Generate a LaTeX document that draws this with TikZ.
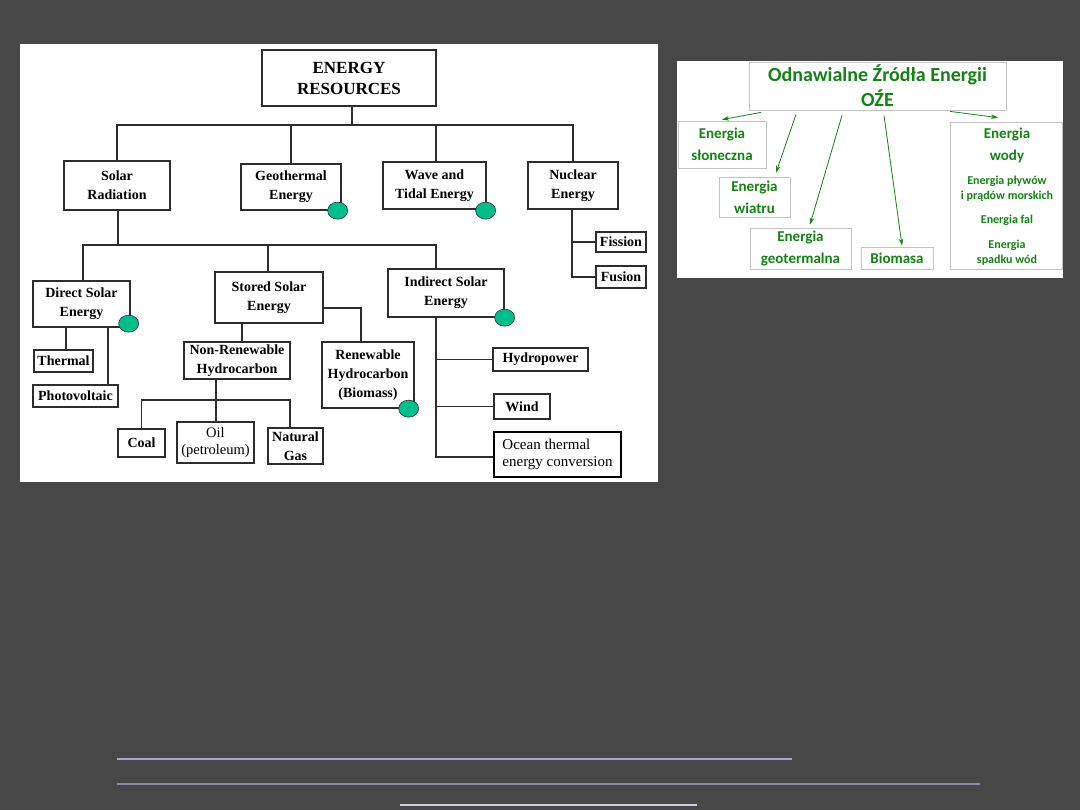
\documentclass[tikz,border=0pt]{standalone}
\usepackage{fontspec}
\setmainfont{Liberation Serif}
\newfontfamily\calib{Carlito}
\usetikzlibrary{arrows.meta,calc,shapes.geometric}
\definecolor{bgc}{RGB}{71,71,71}
\definecolor{boxc}{RGB}{45,45,45}
\definecolor{dotc}{RGB}{0,190,140}
\definecolor{grn}{RGB}{20,130,20}
\definecolor{lbord}{RGB}{195,195,195}
\definecolor{lineA}{RGB}{165,165,205}
\definecolor{lineB}{RGB}{140,140,170}
\definecolor{lineC}{RGB}{205,205,235}
\begin{document}
\begin{tikzpicture}[x=1pt,y=-1pt,
  bx/.style={draw=boxc, line width=1.3pt, fill=white, inner sep=0pt, align=center,
    font=\bfseries\fontsize{14}{19}\selectfont},
  conn/.style={draw=boxc, line width=1.3pt},
  dot/.style={ellipse, draw=boxc, line width=0.6pt, fill=dotc, minimum width=20pt, minimum height=17pt, inner sep=0pt},
  gbox/.style={draw=lbord, line width=0.8pt, inner sep=0pt, align=center, text=grn,
    font=\calib\bfseries\fontsize{15}{22}\selectfont},
  gsmall/.style={text=grn, inner sep=0pt, align=center, font=\calib\bfseries\fontsize{12}{15}\selectfont},
  garrow/.style={draw=grn, line width=0.8pt, -{Stealth[length=7pt,width=4.5pt]}}
]
\fill[bgc] (0,0) rectangle (1080,810);
\useasboundingbox (0,0) rectangle (1080,810);
% panels
\fill[white] (20,44) rectangle (658,482);
\fill[white] (677,61) rectangle (1063,278);

% ---------------- left diagram ----------------
\node[bx, minimum width=174pt, minimum height=56pt, font=\bfseries\fontsize{17}{21}\selectfont] (er) at (349,78) {ENERGY\\RESOURCES};
\node[bx, minimum width=106pt, minimum height=49pt] (sr) at (117,185.5) {Solar\\Radiation};
\node[bx, minimum width=100pt, minimum height=46pt] (geo) at (291,187) {Geothermal\\Energy};
\node[bx, minimum width=103pt, minimum height=47pt] (wave) at (434.5,185.5) {Wave and\\Tidal Energy};
\node[bx, minimum width=90pt, minimum height=47pt] (nuc) at (573,185.5) {Nuclear\\Energy};
\node[bx, minimum width=50pt, minimum height=20pt] (fis) at (621,242) {Fission};
\node[bx, minimum width=50pt, minimum height=22pt] (fus) at (621,277) {Fusion};
\node[bx, minimum width=97pt, minimum height=46pt] (dse) at (81.5,304) {Direct Solar\\Energy};
\node[bx, minimum width=59pt, minimum height=22pt] (th) at (63.5,361) {Thermal};
\node[bx, minimum width=85pt, minimum height=22pt] (pv) at (75.5,396) {Photovoltaic};
\node[bx, minimum width=108pt, minimum height=51pt] (ss) at (269,297.5) {Stored Solar\\Energy};
\node[bx, minimum width=106pt, minimum height=37pt] (nr) at (237,360.5) {Non-Renewable\\Hydrocarbon};
\node[bx, minimum width=92pt, minimum height=66pt] (ren) at (368,375) {Renewable\\Hydrocarbon\\(Biomass)};
\node[bx, minimum width=47pt, minimum height=28pt] (coal) at (141.5,443) {Coal};
\node[bx, minimum width=77pt, minimum height=41pt, font=\fontsize{14.5}{17}\selectfont] (oil) at (215.5,442.5) {Oil\\(petroleum)};
\node[bx, minimum width=55pt, minimum height=36pt] (gas) at (295.5,446) {Natural\\Gas};
\node[bx, minimum width=116pt, minimum height=48pt] (ind) at (446,293) {Indirect Solar\\Energy};
\node[bx, minimum width=95pt, minimum height=23pt] (hy) at (540.5,359.5) {Hydropower};
\node[bx, minimum width=56pt, minimum height=25pt] (wi) at (522,406.5) {Wind};
\node[bx, draw=black, line width=2pt, minimum width=127pt, minimum height=45pt, align=left,
  font=\fontsize{15}{17}\selectfont] (oc) at (557.5,454.5) {Ocean thermal\\energy conversion};

% connectors level 1
\coordinate (bus1) at (352,125);
\draw[conn] ([xshift=3pt]er.south) -- (bus1);
\draw[conn] (sr.north) |- (bus1) -| (nuc.north);
\draw[conn] (geo.north) -- (geo.north |- bus1);
\draw[conn] ([xshift=1.5pt]wave.north) -- ([xshift=1.5pt]wave.north |- bus1);
% nuclear
\draw[conn] ([xshift=-1pt]nuc.south) |- (fus.west);
\draw[conn] (fis.west) -- ([xshift=-1pt]nuc.south |- fis.west);
% level 2
\coordinate (bus2) at (118,245);
\draw[conn] ([xshift=1pt]sr.south) -- (bus2);
\draw[conn] ([xshift=1.5pt]dse.north) |- (bus2) -| ([xshift=-10pt]ind.north);
\draw[conn] ([xshift=-1pt]ss.north) -- ([xshift=-1pt]ss.north |- bus2);
% direct solar
\draw[conn] ([xshift=-15.5pt]dse.south) -- ([xshift=-15.5pt]dse.south |- th.north);
\draw[conn] ([xshift=26.5pt]dse.south) -- ([xshift=26.5pt]dse.south |- pv.north);
% stored solar
\draw[conn] ([yshift=-10.5pt]ss.east) -| ([xshift=-7pt]ren.north);
\draw[conn] ([xshift=-27pt]ss.south) -- ([xshift=-27pt]ss.south |- nr.north);
\coordinate (bus3) at (216,400);
\draw[conn] ([xshift=-21pt]nr.south) -- (bus3);
\draw[conn] (coal.north) |- (bus3) -| ([xshift=-5.5pt]gas.north);
\draw[conn] ([xshift=0.5pt]oil.north) -- ([xshift=0.5pt]oil.north |- bus3);
% indirect solar
\draw[conn] ([xshift=-10pt]ind.south) |- ([yshift=-2.5pt]oc.west);
\draw[conn] (hy.west) -- ([xshift=-10pt]ind.south |- hy.west);
\draw[conn] (wi.west) -- ([xshift=-10pt]ind.south |- wi.west);

% green dots
\node[dot] (d1) at ([xshift=-4pt]geo.south east) {};
\node[dot] (d2) at ([xshift=-1pt,yshift=-1pt]wave.south east) {};
\node[dot] (d3) at ([xshift=-2pt,yshift=4pt]dse.south east) {};
\node[dot] (d4) at ([xshift=-6pt]ren.south east) {};
\node[dot] (d5) at (ind.south east) {};

% ---------------- right diagram ----------------
\node[gbox, minimum width=257pt, minimum height=48pt, font=\calib\bfseries\fontsize{20}{25}\selectfont] (ttl) at (877.5,86) {Odnawialne Źródła Energii\\OŹE};
\node[gbox, minimum width=88pt, minimum height=47pt] (slon) at (722,144.5) {Energia\\słoneczna};
\node[gbox, minimum width=71pt, minimum height=40pt] (wiatr) at (754.5,197) {Energia\\wiatru};
\node[gbox, minimum width=101pt, minimum height=41pt] (geot) at (800.5,248.5) {Energia\\geotermalna};
\node[gbox, minimum width=72pt, minimum height=22pt] (bio) at (897,258) {Biomasa};
\node[gbox, minimum width=112pt, minimum height=147pt] (wody) at (1006,195.5) {};
\node[gsmall, font=\calib\bfseries\fontsize{15}{22}\selectfont] (w1) at (1007,145) {Energia\\wody};
\node[gsmall] (w2) at (1007,188.5) {Energia pływów\\i prądów morskich};
\node[gsmall] (w3) at (1007,220) {Energia fal};
\node[gsmall] (w4) at (1007,252.5) {Energia\\spadku wód};

\coordinate (s1) at ([xshift=-116.5pt,yshift=-2pt]ttl.south);
\coordinate (s2) at ([xshift=-81.5pt,yshift=-4pt]ttl.south);
\coordinate (s3) at ([xshift=-35.5pt,yshift=-5pt]ttl.south);
\coordinate (s4) at ([xshift=6.5pt,yshift=-5pt]ttl.south);
\coordinate (s5) at ([xshift=72.5pt,yshift=-1pt]ttl.south);
\draw[garrow] (s1) -- ([yshift=1pt]slon.north);
\draw[garrow] (s2) -- ([xshift=21.5pt,yshift=4pt]wiatr.north);
\draw[garrow] (s3) -- ([xshift=9.5pt,yshift=3pt]geot.north);
\draw[garrow] (s4) -- ([xshift=5pt,yshift=1pt]bio.north);
\draw[garrow] (s5) -- ([xshift=-8pt,yshift=4pt]wody.north);

% bottom lines
\draw[lineA, line width=2pt] (117,759) -- (792,759);
\draw[lineB, line width=2pt] (117,784) -- (980,784);
\draw[lineC, line width=1.5pt] (400,805) -- (697,805);
\end{tikzpicture}
\end{document}
